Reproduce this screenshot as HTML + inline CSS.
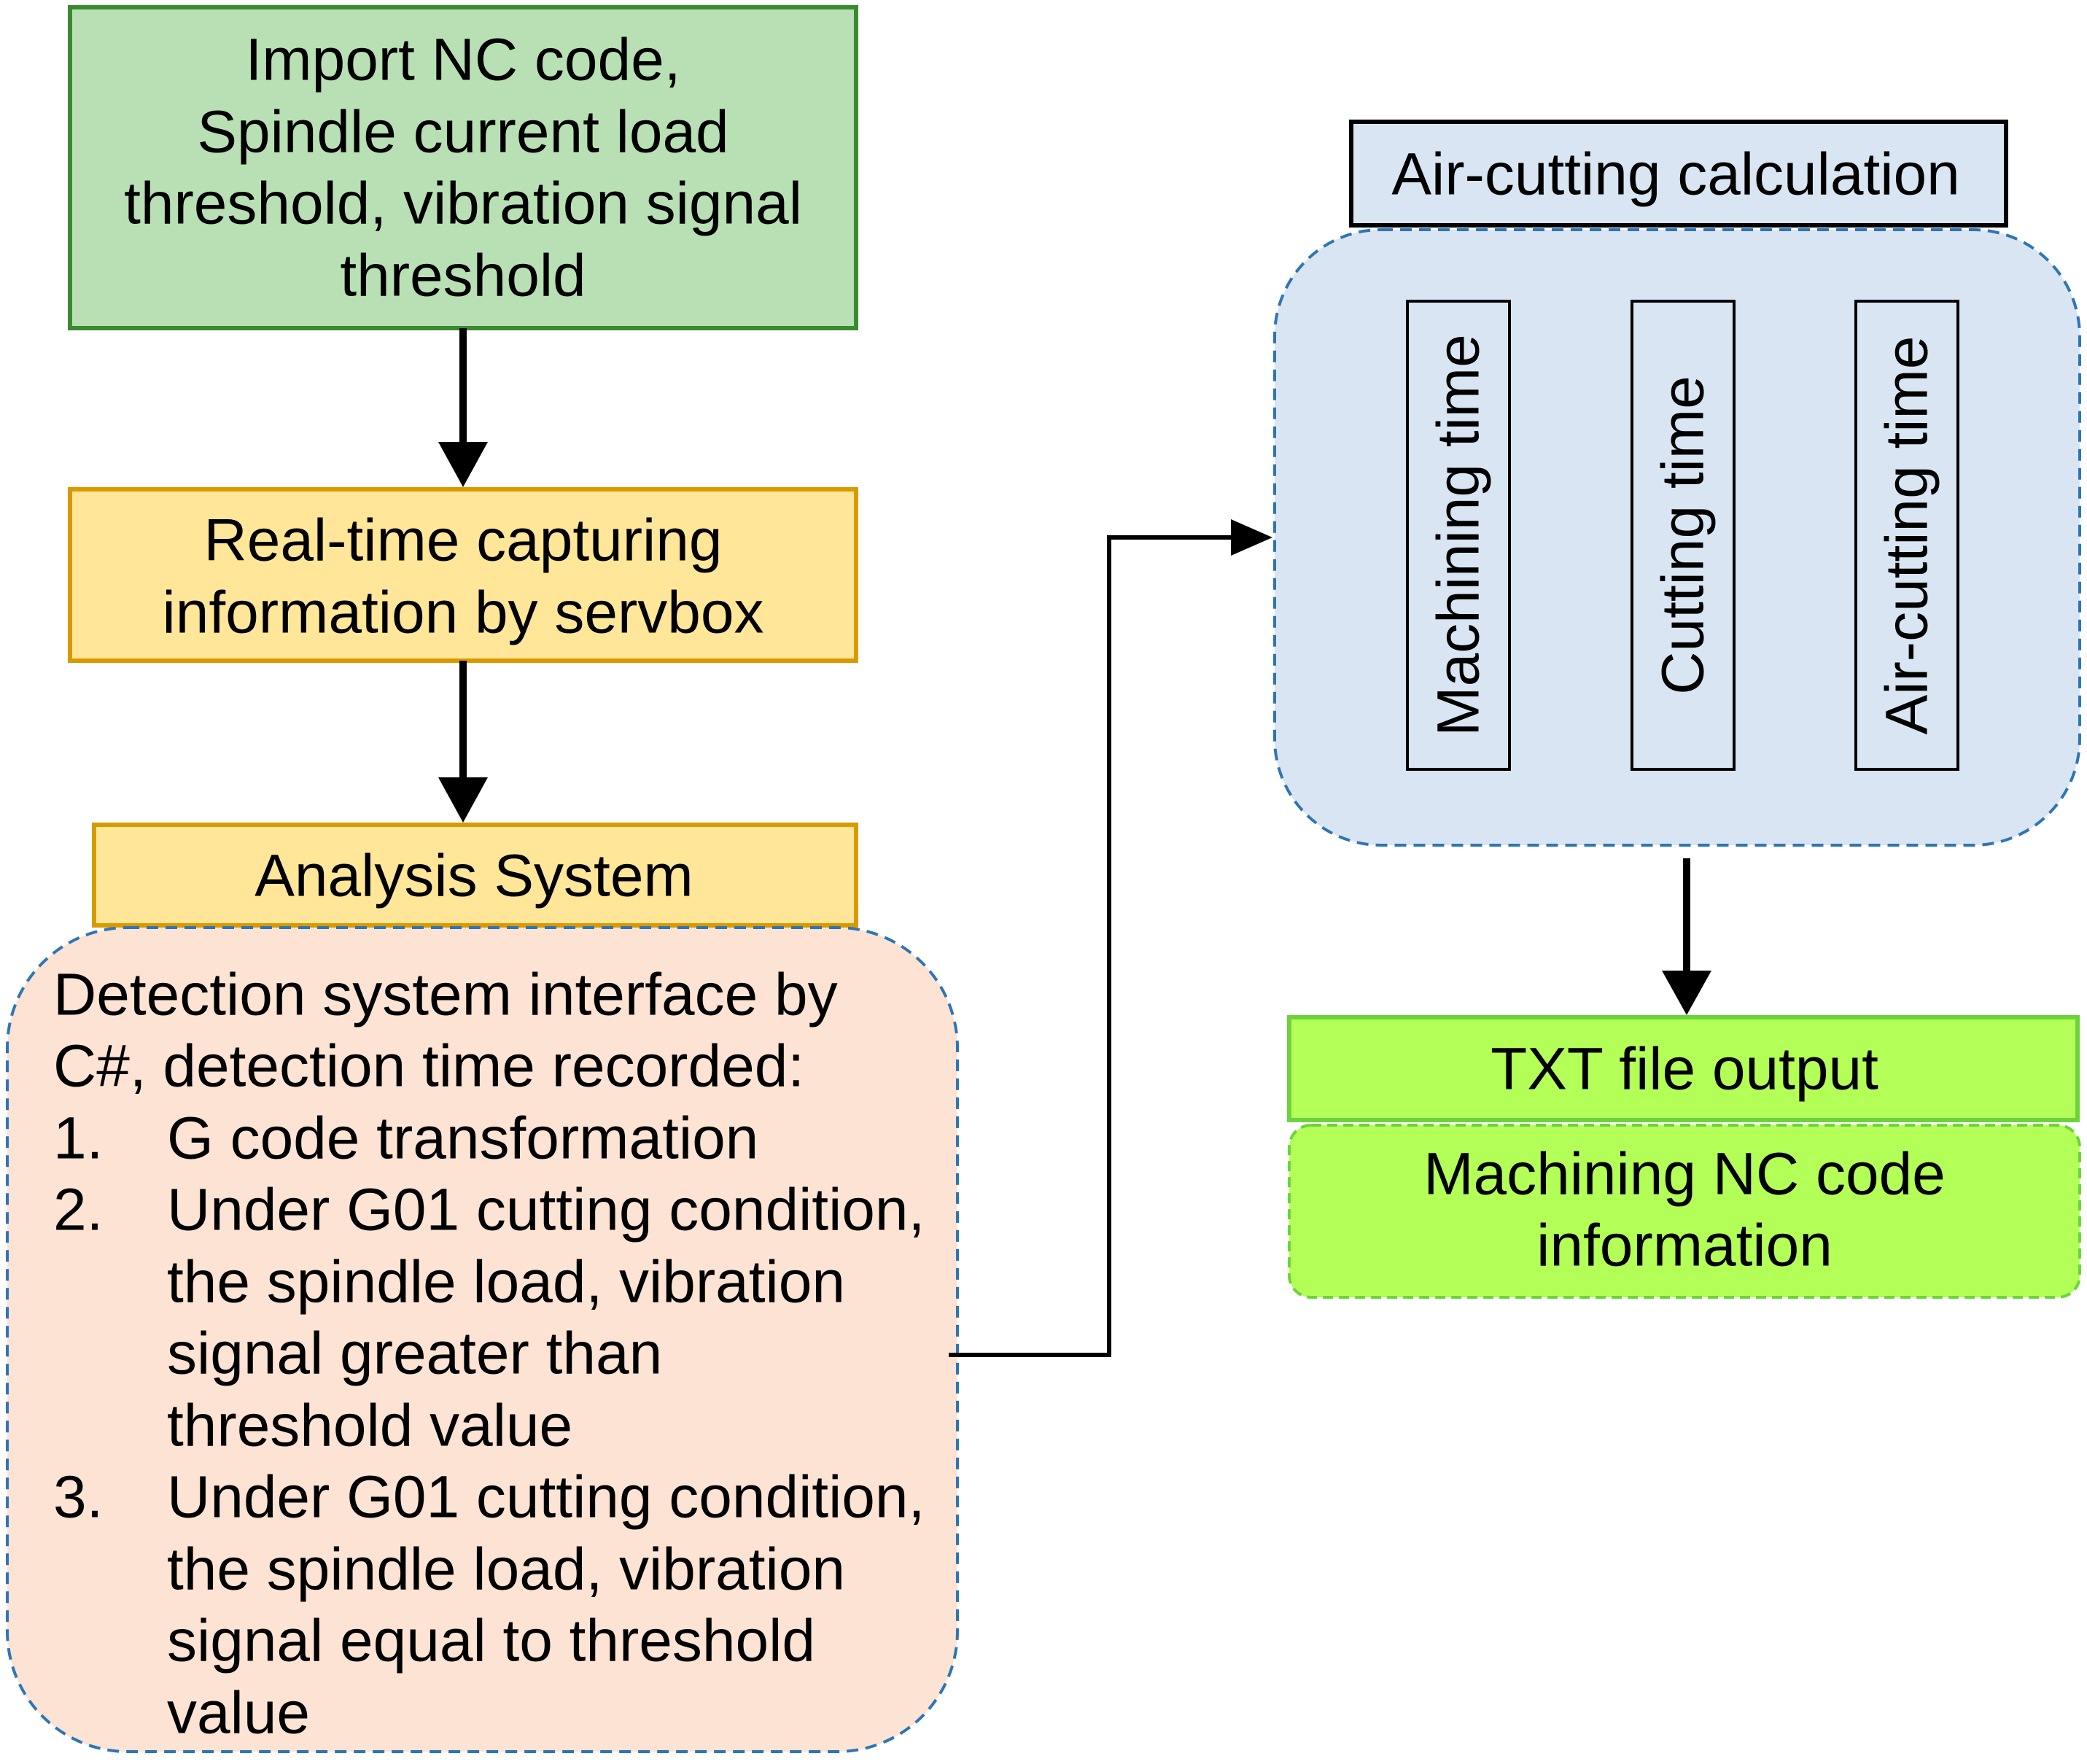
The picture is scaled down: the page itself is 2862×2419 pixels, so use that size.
<!DOCTYPE html>
<html><head><meta charset="utf-8"><style>
html,body{margin:0;padding:0;background:#fff}
svg{display:block}
text{font-family:"Liberation Sans",Arial,sans-serif;fill:#000}
</style></head><body>
<svg width="2862" height="2419" viewBox="0 0 2862 2419" xmlns="http://www.w3.org/2000/svg">
<!-- green top box -->
<rect x="96" y="10" width="1078" height="440" fill="#b9e0b4" stroke="#3a8a2e" stroke-width="6"/>
<g font-size="82" text-anchor="middle" dominant-baseline="central">
<text x="635" y="82">Import NC code,</text>
<text x="635" y="181">Spindle current load</text>
<text x="635" y="279">threshold, vibration signal</text>
<text x="635" y="378">threshold</text>
</g>
<!-- arrow 1 -->
<line x1="635" y1="450" x2="635" y2="610" stroke="#000" stroke-width="10"/>
<path d="M601,606 L669,606 L635,668 z" fill="#000"/>
<!-- yellow box -->
<rect x="96" y="671" width="1078" height="235" fill="#ffe699" stroke="#d99a00" stroke-width="6"/>
<g font-size="82" text-anchor="middle" dominant-baseline="central">
<text x="635" y="741">Real-time capturing</text>
<text x="635" y="840">information by servbox</text>
</g>
<!-- arrow 2 -->
<line x1="635" y1="906" x2="635" y2="1070" stroke="#000" stroke-width="10"/>
<path d="M601,1066 L669,1066 L635,1128 z" fill="#000"/>
<!-- analysis header -->
<rect x="129" y="1131" width="1045" height="138" fill="#ffe699" stroke="#d99a00" stroke-width="6"/>
<text x="650" y="1201" font-size="82" text-anchor="middle" dominant-baseline="central">Analysis System</text>
<!-- pink box -->
<rect x="10" y="1272" width="1303" height="1130" rx="165" ry="165" fill="#fde3d3" stroke="#2e75b6" stroke-width="4" stroke-dasharray="16,10"/>
<g font-size="82" dominant-baseline="central">
<text x="73" y="1364">Detection system interface by</text>
<text x="73" y="1462">C#, detection time recorded:</text>
<text x="73" y="1561">1.</text><text x="229" y="1561">G code transformation</text>
<text x="73" y="1659">2.</text><text x="229" y="1659">Under G01 cutting condition,</text>
<text x="229" y="1758">the spindle load, vibration</text>
<text x="229" y="1856">signal greater than</text>
<text x="229" y="1955">threshold value</text>
<text x="73" y="2053">3.</text><text x="229" y="2053">Under G01 cutting condition,</text>
<text x="229" y="2152">the spindle load, vibration</text>
<text x="229" y="2250">signal equal to threshold</text>
<text x="229" y="2349">value</text>
</g>
<!-- connector -->
<polyline points="1301,1858 1521,1858 1521,737 1690,737" fill="none" stroke="#000" stroke-width="6"/>
<path d="M1688,712 L1745,737 L1688,762 z" fill="#000"/>
<!-- air-cutting header -->
<rect x="1853" y="167" width="898" height="142" fill="#dae5f3" stroke="#000" stroke-width="6"/>
<text x="2298" y="239" font-size="82" text-anchor="middle" dominant-baseline="central">Air-cutting calculation</text>
<!-- blue dashed box -->
<rect x="1748" y="315" width="1104" height="844" rx="146" ry="146" fill="#dae5f3" stroke="#2e75b6" stroke-width="4" stroke-dasharray="16,10"/>
<rect x="1930" y="413" width="140" height="642" fill="none" stroke="#000" stroke-width="4"/>
<rect x="2238" y="413" width="140" height="642" fill="none" stroke="#000" stroke-width="4"/>
<rect x="2545" y="413" width="140" height="642" fill="none" stroke="#000" stroke-width="4"/>
<g font-size="82" text-anchor="middle" dominant-baseline="central">
<text transform="translate(2000,734) rotate(-90)">Machining time</text>
<text transform="translate(2308,734) rotate(-90)">Cutting time</text>
<text transform="translate(2615,734) rotate(-90)">Air-cutting time</text>
</g>
<!-- arrow down -->
<line x1="2313" y1="1177" x2="2313" y2="1335" stroke="#000" stroke-width="10"/>
<path d="M2279,1331 L2347,1331 L2313,1392 z" fill="#000"/>
<!-- TXT box -->
<rect x="1768" y="1395" width="1081" height="141" fill="#b3ff57" stroke="#6cd43a" stroke-width="6"/>
<text x="2310" y="1466" font-size="82" text-anchor="middle" dominant-baseline="central">TXT file output</text>
<rect x="1768" y="1543" width="1084" height="236" rx="30" ry="30" fill="#b3ff57" stroke="#6cd43a" stroke-width="4" stroke-dasharray="14,8"/>
<g font-size="82" text-anchor="middle" dominant-baseline="central">
<text x="2310" y="1610">Machining NC code</text>
<text x="2310" y="1708">information</text>
</g>
</svg>
</body></html>
